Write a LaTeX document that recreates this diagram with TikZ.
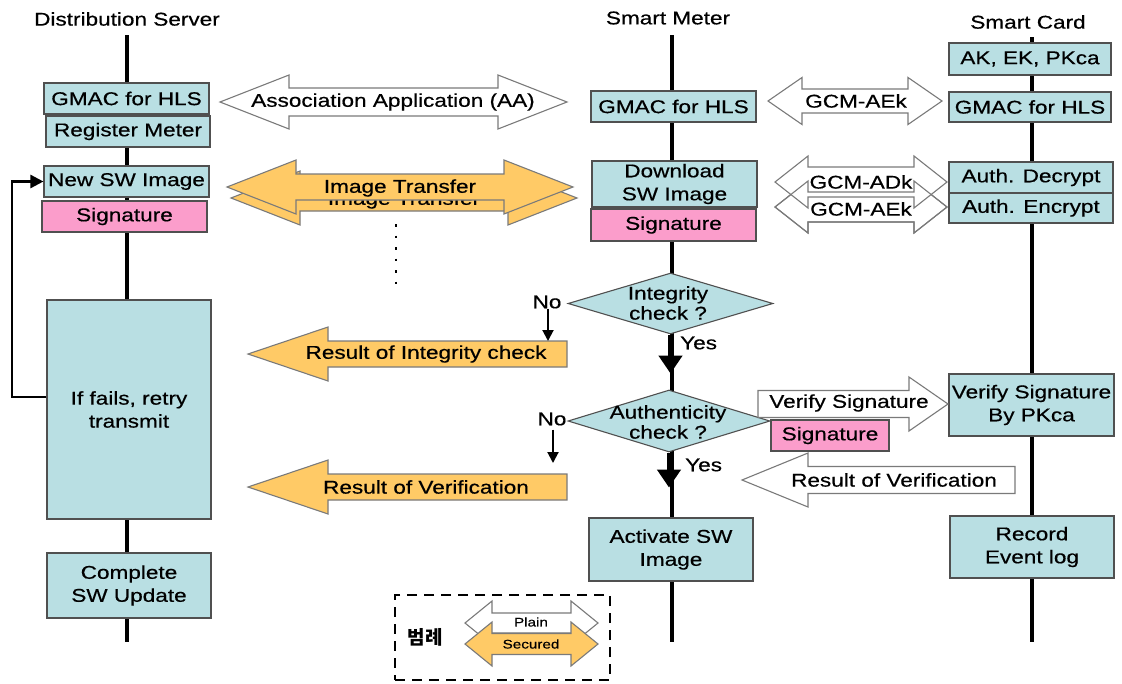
\documentclass[tikz,border=0pt]{standalone}
\usepackage{fontspec}
\setmainfont{Liberation Sans}[FakeStretch=1.22,FakeBold=0.5]
\newfontfamily\kofont{Noto Sans CJK KR}
\usetikzlibrary{arrows.meta,shapes.geometric}

\definecolor{boxblue}{HTML}{B9DFE3}
\definecolor{sigpink}{HTML}{FB9DCB}
\definecolor{secorange}{HTML}{FFCA66}
\definecolor{boxline}{HTML}{505050}
\definecolor{arrline}{HTML}{7A7A7A}

% block arrows: style, x-left, x-right, y-centre, shaft half-height, head half-height, head length
\newcommand\dblarrow[7]{\draw[#1] (#2,#4) -- (#2+#7,#4-#6) -- (#2+#7,#4-#5) -- (#3-#7,#4-#5) -- (#3-#7,#4-#6) -- (#3,#4) -- (#3-#7,#4+#6) -- (#3-#7,#4+#5) -- (#2+#7,#4+#5) -- (#2+#7,#4+#6) -- cycle;}
% left pointing: style, x-tip, x-tail, y-centre, shaft half, head half, head length
\newcommand\leftarr[7]{\draw[#1] (#2,#4) -- (#2+#7,#4-#6) -- (#2+#7,#4-#5) -- (#3,#4-#5) -- (#3,#4+#5) -- (#2+#7,#4+#5) -- (#2+#7,#4+#6) -- cycle;}
% right pointing: style, x-tail, x-tip, y-centre, shaft half, head half, head length
\newcommand\rightarr[7]{\draw[#1] (#3,#4) -- (#3-#7,#4-#6) -- (#3-#7,#4-#5) -- (#2,#4-#5) -- (#2,#4+#5) -- (#3-#7,#4+#5) -- (#3-#7,#4+#6) -- cycle;}

\begin{document}
\begin{tikzpicture}[x=1pt,y=-1pt,
  txt/.style={font=\fontsize{18.5pt}{23pt}\selectfont, align=center, inner sep=0pt},
  box/.style={txt, draw=boxline, fill=boxblue, line width=1.1pt},
  sigbox/.style={box, fill=sigpink},
  decision/.style={diamond, draw=boxline, fill=boxblue, line width=1.1pt, inner sep=0pt},
  lifeline/.style={line width=4.5pt, black},
  plainarrow/.style={draw=arrline, fill=white, line width=1.1pt},
  securearrow/.style={draw=arrline, fill=secorange, line width=1.1pt},
  yesarrow/.style={line width=4.5pt, -{Triangle[width=23pt,length=18pt]}},
  noarrow/.style={line width=2pt, -{Triangle[width=11pt,length=11pt]}},
  retryline/.style={line width=2.5pt, -{Triangle[width=13pt,length=13pt]}},
  small/.style={font=\fontsize{12.5pt}{14pt}\selectfont, inner sep=0pt}
]
\useasboundingbox (0,0) rectangle (1122,683);

% column headings
\node[txt] (hServer) at (127,19) {Distribution Server};
\node[txt] (hMeter) at (668,18) {Smart Meter};
\node[txt] (hCard) at (1028,22) {Smart Card};

% lifelines
\coordinate (sTop) at (127,35);  \coordinate (sBot) at (127,642);
\coordinate (mTop) at (672,35);  \coordinate (mBot) at (672,642);
\coordinate (cTop) at (1032,37); \coordinate (cBot) at (1032,642);
\draw[lifeline] (sTop) -- (sBot);
\draw[lifeline] (mTop) -- (mBot);
\draw[lifeline] (cTop) -- (cBot);

% Distribution Server column
\node[box, minimum width=165pt, minimum height=31pt] (gmacL) at (126.5,98.5) {GMAC for HLS};
\node[box, minimum width=164pt, minimum height=31pt] (regL) at (128,131.5) {Register Meter};
\node[box, minimum width=165pt, minimum height=31pt] (newSW) at (126.5,181.5) {New SW Image};
\node[sigbox, minimum width=165pt, minimum height=31pt] (sigL) at (124.5,216.5) {Signature};
\node[box, minimum width=164pt, minimum height=219pt] (retry) at (129,409.5) {If fails, retry\\ transmit};
\node[box, minimum width=164pt, minimum height=65pt] (complete) at (129,585.5) {Complete\\SW Update};

% retry loop back to the new image
\coordinate (loopX) at (12,397);
\draw[retryline] ([yshift=12.5pt]retry.west) -- (loopX) |- (newSW.west);

% Smart Meter column
\node[box, minimum width=165pt, minimum height=31pt] (gmacM) at (673.5,106.5) {GMAC for HLS};
\node[box, minimum width=165pt, minimum height=46pt] (download) at (674.5,184) {Download\\SW Image};
\node[sigbox, minimum width=165pt, minimum height=32pt] (sigM) at (673.5,225) {Signature};
\node[decision, minimum width=205pt, minimum height=61pt] (integ) at (670.5,303.5) {};
\node[txt, font=\fontsize{18.5pt}{20pt}\selectfont] (integT) at (668,303) {Integrity\\check ?};
\node[decision, minimum width=202pt, minimum height=62pt] (auth) at (669,421) {};
\node[txt, font=\fontsize{18.5pt}{20pt}\selectfont] (authT) at (668,422) {Authenticity\\check ?};
\node[box, minimum width=164pt, minimum height=63pt] (activate) at (671,549.5) {Activate SW\\Image};

\draw[yesarrow] (integ.south) -- ++(0,39);
\draw[yesarrow] (auth.south) -- ++(0,35);
\node[txt, anchor=west] (yes1) at (680,343) {Yes};
\node[txt, anchor=west] (yes2) at (685,465) {Yes};

% Smart Card column
\node[box, minimum width=162pt, minimum height=32pt] (keys) at (1030,59) {AK, EK, PKca};
\node[box, minimum width=162pt, minimum height=30pt] (gmacR) at (1030,107) {GMAC for HLS};
\node[box, minimum width=164pt, minimum height=31pt] (adec) at (1031,177.5) {Auth. Decrypt};
\node[box, minimum width=164pt, minimum height=30pt] (aenc) at (1031,208) {Auth. Encrypt};
\node[box, minimum width=165pt, minimum height=62pt] (verify) at (1031.5,405) {Verify Signature\\By PKca};
\node[box, minimum width=164pt, minimum height=62pt] (record) at (1032,547) {Record\\Event log};

% association between server and meter
\dblarrow{plainarrow}{220}{567}{102}{14}{27}{69}
\node[txt] (aa) at (393,102) {Association Application (AA)};

% image transfer, two stacked copies
\dblarrow{securearrow}{231}{577}{198}{13}{27}{69}
\node[txt] (imgB) at (404,200) {Image Transfer};
\dblarrow{securearrow}{227}{573}{187}{13}{27}{69}
\node[txt] (imgF) at (400,188) {Image Transfer};

% continuation dots
\coordinate (dotsTop) at (396,224);
\coordinate (dotsBot) at (396,286);
\draw[line width=2.5pt, dash pattern=on 2.5pt off 9pt] (dotsTop) -- (dotsBot);

% meter <-> card key exchange
\dblarrow{plainarrow}{768}{942}{101}{12}{23.5}{34}
\node[txt] (gcm1) at (856,101) {GCM-AEk};
\dblarrow{plainarrow}{775}{947}{207}{15}{26}{33}
\node[txt] (gcm3) at (861,209) {GCM-AEk};
\dblarrow{plainarrow}{775}{947}{182}{15}{26}{33}
\node[txt] (gcm2) at (861,182) {GCM-ADk};
\dblarrow{draw=arrline, line width=1.1pt}{775}{947}{207}{15}{26}{33}

% integrity branch
\leftarr{securearrow}{248}{567}{354}{13}{27}{80}
\node[txt] (resInt) at (426,354) {Result of Integrity check};
\node[txt] (no1) at (547,302) {No};
\coordinate (no1End) at (548,341);
\draw[noarrow] (no1.south -| no1End) -- (no1End);

% authenticity branch
\leftarr{securearrow}{248}{567}{487}{13}{27}{80}
\node[txt] (resVer) at (426,487) {Result of Verification};
\node[txt] (no2) at (552,419) {No};
\coordinate (no2End) at (553,463);
\draw[noarrow] ([yshift=-4pt]no2.south -| no2End) -- (no2End);

% signature verification on the card
\rightarr{plainarrow}{758}{948}{404}{13.5}{27}{39}
\node[txt] (verSig) at (849,403) {Verify Signature};
\node[sigbox, minimum width=118pt, minimum height=31pt] (sigV) at (830,435.5) {Signature};
\leftarr{plainarrow}{742}{1015}{480}{13.5}{27}{66}
\node[txt] (resVerC) at (894,480) {Result of Verification};

% legend
\node[draw, line width=2.5pt, dash pattern=on 10pt off 7pt, minimum width=215pt, minimum height=85pt, inner sep=0pt] (legend) at (502.5,637.5) {};
\node[inner sep=0pt, font=\kofont\bfseries\fontsize{19pt}{21pt}\selectfont] (legT) at (425,637) {범례};
\dblarrow{plainarrow}{465}{598}{623}{10}{22}{27}
\node[small] (plainT) at (531,622) {Plain};
\dblarrow{securearrow}{465}{598}{644}{10.5}{22}{27}
\node[small] (secT) at (531,644) {Secured};
\end{tikzpicture}
\end{document}
